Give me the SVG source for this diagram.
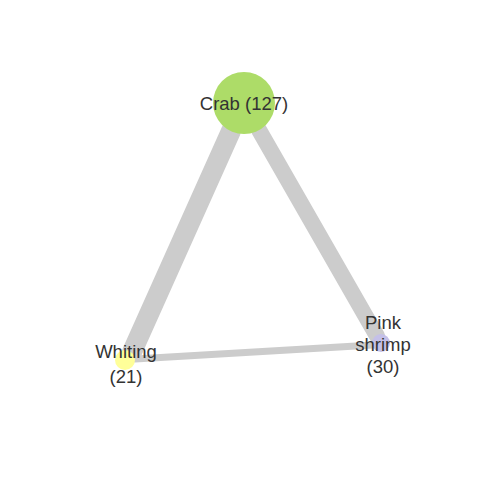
<svg xmlns="http://www.w3.org/2000/svg" width="480" height="480" viewBox="0 0 480 480">
<style>
.edge{stroke:#cccccc;stroke-linecap:round;fill:none}
.lbl{font-family:"Liberation Sans",Arial,sans-serif;font-size:18.5px;fill:#333333;text-anchor:middle}
</style>
<rect width="480" height="480" fill="#ffffff"/>
<g id="connectors">
<line class="edge" x1="231" y1="131" x2="132" y2="352" stroke-width="20"/>
<line class="edge" x1="259" y1="130" x2="377" y2="336" stroke-width="16"/>
<line class="edge" x1="135" y1="359" x2="373" y2="345" stroke-width="7"/>
</g>
<g id="node-crab">
<circle cx="244" cy="103" r="31" fill="#addc68"/>
<text class="lbl" x="244" y="110">Crab (127)</text>
</g>
<g id="node-whiting">
<circle cx="125" cy="360" r="10" fill="#ffff99"/>
<text class="lbl" x="126" y="358">Whiting</text>
<text class="lbl" x="126" y="383">(21)</text>
</g>
<g id="node-pinkshrimp">
<circle cx="381" cy="343" r="9" fill="#c4c0e8"/>
<text class="lbl" x="383" y="329">Pink</text>
<text class="lbl" x="383" y="351">shrimp</text>
<text class="lbl" x="383" y="373">(30)</text>
</g>
</svg>
